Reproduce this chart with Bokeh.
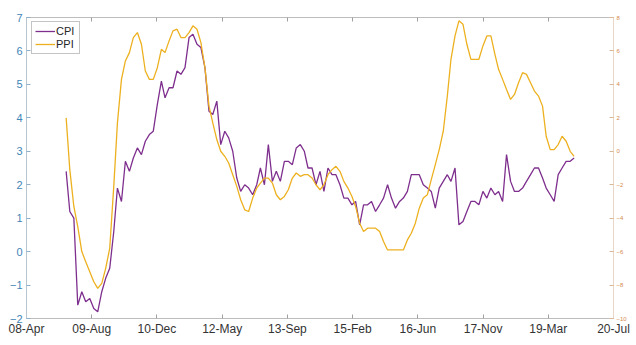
import pandas as pd
from bokeh.plotting import figure
from bokeh.models import (Range1d, LinearAxis, FixedTicker, Legend, LegendItem,
                          ColumnDataSource)
from bokeh.embed import file_html
from bokeh.resources import INLINE

# ---- data (YoY %, monthly, plotted from the first date below) ----
first_date = "2009-01-31"
cpi = [2.4, 1.2,
       1.0, -1.6, -1.2, -1.5, -1.4, -1.7, -1.8, -1.2, -0.8, -0.5, 0.6, 1.9,
       1.5, 2.7, 2.4, 2.8, 3.1, 2.9, 3.3, 3.5, 3.6, 4.4, 5.1, 4.6,
       4.9, 4.9, 5.4, 5.3, 5.5, 6.4, 6.5, 6.2, 6.1, 5.5, 4.2, 4.1,
       4.5, 3.2, 3.6, 3.4, 3.0, 2.2, 1.8, 2.0, 1.9, 1.7, 2.0, 2.5,
       2.0, 3.2, 2.1, 2.4, 2.1, 2.7, 2.7, 2.6, 3.1, 3.2, 3.0, 2.5,
       2.5, 2.0, 2.4, 1.8, 2.5, 2.3, 2.3, 2.0, 1.6, 1.6, 1.4, 1.5,
       0.8, 1.4, 1.4, 1.5, 1.2, 1.4, 1.6, 2.0, 1.6, 1.3, 1.5, 1.6,
       1.8, 2.3, 2.3, 2.3, 2.0, 1.9, 1.8, 1.3, 1.9, 2.1, 2.3, 2.1,
       2.5, 0.8, 0.9, 1.2, 1.5, 1.5, 1.4, 1.8, 1.6, 1.9, 1.7, 1.8,
       1.5, 2.9, 2.1, 1.8, 1.8, 1.9, 2.1, 2.3, 2.5, 2.5, 2.2, 1.9,
       1.7, 1.5, 2.3, 2.5, 2.7, 2.7, 2.8]
ppi = [2.0, -1.1,
       -3.3, -4.5, -6.0, -6.6, -7.2, -7.8, -8.2, -7.9, -7.0, -5.8, -2.1, 1.7,
       4.3, 5.4, 5.9, 6.8, 7.1, 6.4, 4.8, 4.3, 4.3, 5.0, 6.1, 5.9,
       6.6, 7.2, 7.3, 6.8, 6.8, 7.1, 7.5, 7.3, 6.5, 5.0, 2.7, 1.7,
       0.7, 0.0, -0.3, -0.7, -1.4, -2.1, -2.9, -3.5, -3.6, -2.8, -2.2, -1.9,
       -1.6, -1.6, -1.9, -2.6, -2.9, -2.7, -2.3, -1.6, -1.3, -1.5, -1.4, -1.4,
       -1.6, -2.0, -2.3, -2.0, -1.4, -1.1, -0.9, -1.2, -1.8, -2.2, -2.7, -3.3,
       -4.3, -4.8, -4.6, -4.6, -4.6, -4.8, -5.4, -5.9, -5.9, -5.9, -5.9, -5.9,
       -5.3, -4.9, -4.3, -3.4, -2.8, -2.6, -1.7, -0.8, 0.1, 1.2, 3.3, 5.5,
       6.9, 7.8, 7.6, 6.4, 5.5, 5.5, 5.5, 6.3, 6.9, 6.9, 5.8, 4.9,
       4.3, 3.7, 3.1, 3.4, 4.1, 4.7, 4.6, 4.1, 3.6, 3.3, 2.7, 0.9,
       0.1, 0.1, 0.4, 0.9, 0.6, 0.0, -0.3]
axis_origin = "2008-04-02"
tick_step_days = 500
x_tick_labels = ["08-Apr", "09-Aug", "10-Dec", "12-May", "13-Sep",
                 "15-Feb", "16-Jun", "17-Nov", "19-Mar", "20-Jul"]
left_ticks = [-2, -1, 0, 1, 2, 3, 4, 5, 6, 7]
right_ticks = [-10, -8, -6, -4, -2, 0, 2, 4, 6, 8]

origin = pd.Timestamp(axis_origin)
dates = pd.date_range(first_date, periods=len(cpi), freq=pd.offsets.MonthEnd())
xs = [(d - origin).days for d in dates]
x_ticks = [i * tick_step_days for i in range(len(x_tick_labels))]

src = ColumnDataSource(dict(x=xs, cpi=cpi, ppi=ppi))

FONT = "Liberation Sans"
CPI_C = "#7E2F8E"
PPI_C = "#EDB120"
LEFT_C = "#3f86b8"
RIGHT_C = "#d58a4e"

p = figure(width=636, height=345, output_backend="svg", toolbar_location=None,
           x_range=Range1d(x_ticks[0], x_ticks[-1]),
           y_range=Range1d(left_ticks[0], left_ticks[-1]),
           min_border_left=26, min_border_right=23, min_border_top=17,
           min_border_bottom=27, x_axis_location=None, y_axis_location=None)
p.outline_line_color = None
p.grid.visible = False
p.background_fill_color = "white"
p.border_fill_color = "white"
p.extra_y_ranges = {"ppi": Range1d(right_ticks[0], right_ticks[-1])}

# bottom axis
xb = LinearAxis(ticker=FixedTicker(ticks=x_ticks))
xb.major_label_overrides = {t: l for t, l in zip(x_ticks, x_tick_labels)}
xt = LinearAxis(ticker=FixedTicker(ticks=x_ticks))
xt.major_label_overrides = {t: "" for t in x_ticks}
for ax in (xb, xt):
    ax.axis_line_color = "#bdbdbd"
    ax.major_tick_line_color = "#a0a0a0"
    ax.major_tick_in = 4
    ax.major_tick_out = 0
    ax.minor_tick_line_color = None
    ax.major_label_text_font = FONT
    ax.major_label_text_font_size = "12px"
    ax.major_label_text_color = "#333333"
    ax.major_label_standoff = 3
xt.major_label_text_font_size = "0px"
xt.major_label_standoff = 0
p.add_layout(xb, "below")
p.add_layout(xt, "above")

yl = LinearAxis(ticker=FixedTicker(ticks=left_ticks))
yl.axis_line_color = "#b9c6cf"
yl.major_tick_line_color = "#8fb0c8"
yl.major_label_text_color = LEFT_C
yl.major_label_text_font_size = "11px"
yr = LinearAxis(y_range_name="ppi", ticker=FixedTicker(ticks=right_ticks))
yr.axis_line_color = "#e8d6c6"
yr.major_tick_line_color = "#d9b89a"
yr.major_label_text_color = RIGHT_C
yr.major_label_text_font_size = "6px"
for ax in (yl, yr):
    ax.major_tick_in = 4
    ax.major_tick_out = 0
    ax.minor_tick_line_color = None
    ax.major_label_text_font = FONT
    ax.major_label_standoff = 4
yr.major_label_standoff = 3
p.add_layout(yl, "left")
p.add_layout(yr, "right")

r_cpi = p.line("x", "cpi", source=src, line_color=CPI_C, line_width=1.3)
r_ppi = p.line("x", "ppi", source=src, line_color=PPI_C, line_width=1.3,
               y_range_name="ppi")

legend = Legend(items=[LegendItem(label="CPI", renderers=[r_cpi]),
                       LegendItem(label="PPI", renderers=[r_ppi])],
                location=(5, 264), orientation="vertical")
legend.label_text_font = FONT
legend.label_text_font_size = "11px"
legend.label_text_color = "#262626"
legend.glyph_width = 20
legend.glyph_height = 12
legend.label_height = 12
legend.label_standoff = 1
legend.spacing = 1
legend.padding = 3
legend.margin = 0
legend.border_line_color = "#8a8a8a"
legend.border_line_width = 1
legend.background_fill_color = "white"
legend.background_fill_alpha = 1
p.add_layout(legend, "center")

open("out.html", "w").write(file_html(p, INLINE))
